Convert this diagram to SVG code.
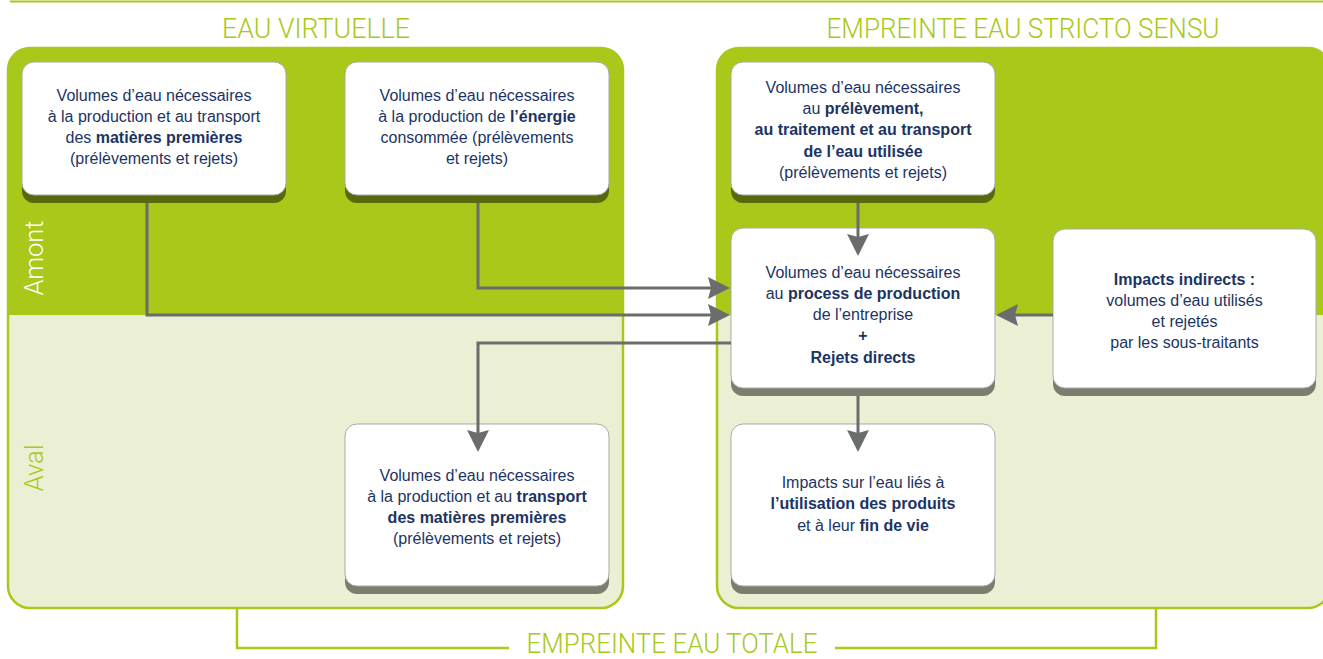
<svg xmlns="http://www.w3.org/2000/svg" width="1323" height="659" viewBox="0 0 1323 659">
<defs>
<style>
.title{font-family:Roboto,"Liberation Sans",sans-serif;font-weight:300;font-size:27px;fill:#a8c81a}
.panel{fill:#ebf0d5;stroke:#a8c81a;stroke-width:2.5}
.upper{fill:#a8c81a}
.box{fill:#fff;stroke:#a9aaa5;stroke-width:1}
.shadow{fill:#000;fill-opacity:0.48}
.t{font-family:"Liberation Sans",Arial,sans-serif;font-size:16px;fill:#1c3463;text-anchor:middle}
.b{font-weight:bold}
.conn{fill:none;stroke:#6b6d6d;stroke-width:3}
.bracket{fill:none;stroke:#a8c81a;stroke-width:2.5}
</style>
<marker id="arr" markerUnits="userSpaceOnUse" markerWidth="22" markerHeight="22" refX="4" refY="11" orient="auto" viewBox="0 0 22 22">
<path d="M0,0 L22,11 L0,22 L3,11 Z" fill="#6b6d6d"/>
</marker>
</defs>
<rect width="1323" height="659" fill="#fff"/>
<line x1="10" y1="1.5" x2="1323" y2="1.5" stroke="#a8c81a" stroke-width="2"/>

<g id="panel-virtuelle">
<rect class="panel" x="8" y="48" width="615" height="560" rx="22"/>
<path class="upper" d="M8,315 V70 A22,22 0 0 1 30,48 H601 A22,22 0 0 1 623,70 V315 Z"/>
<text class="title" x="316" y="38" text-anchor="middle" textLength="188" lengthAdjust="spacingAndGlyphs">EAU VIRTUELLE</text>
<text transform="translate(43,258) rotate(-90)" font-family="Roboto,'Liberation Sans',sans-serif" font-weight="300" font-size="26" fill="#fff" text-anchor="middle" textLength="75" lengthAdjust="spacingAndGlyphs">Amont</text>
<text transform="translate(43,468) rotate(-90)" font-family="Roboto,'Liberation Sans',sans-serif" font-weight="300" font-size="26" fill="#a8c81a" text-anchor="middle" textLength="47" lengthAdjust="spacingAndGlyphs">Aval</text>
</g>

<g id="panel-stricto">
<rect class="panel" x="717" y="48" width="613" height="560" rx="22"/>
<path class="upper" d="M717,315 V70 A22,22 0 0 1 739,48 H1308 A22,22 0 0 1 1330,70 V315 Z"/>
<text class="title" x="1023" y="38" text-anchor="middle" textLength="393" lengthAdjust="spacingAndGlyphs">EMPREINTE EAU STRICTO SENSU</text>
</g>

<g id="totale">
<path class="bracket" d="M237,608 V648 H509"/>
<path class="bracket" d="M835,648 H1156 V608"/>
<text class="title" x="672" y="653" font-size="26" text-anchor="middle" textLength="291" lengthAdjust="spacingAndGlyphs">EMPREINTE EAU TOTALE</text>
</g>

<g id="node-matieres-amont">
<rect class="shadow" x="22" y="70" width="264" height="133" rx="12"/>
<rect class="box" x="22" y="62" width="264" height="133" rx="12"/>
<text class="t" x="154" y="101">Volumes d’eau nécessaires</text>
<text class="t" x="154" y="122">à la production et au transport</text>
<text class="t" x="154" y="143">des <tspan class="b">matières premières</tspan></text>
<text class="t" x="154" y="164">(prélèvements et rejets)</text>
</g>

<g id="node-energie">
<rect class="shadow" x="345" y="70" width="264" height="133" rx="12"/>
<rect class="box" x="345" y="62" width="264" height="133" rx="12"/>
<text class="t" x="477" y="101">Volumes d’eau nécessaires</text>
<text class="t" x="477" y="122">à la production de <tspan class="b">l’énergie</tspan></text>
<text class="t" x="477" y="143">consommée (prélèvements</text>
<text class="t" x="477" y="164">et rejets)</text>
</g>

<g id="node-prelevement">
<rect class="shadow" x="731" y="70" width="264" height="133" rx="12"/>
<rect class="box" x="731" y="62" width="264" height="133" rx="12"/>
<text class="t" x="863" y="93">Volumes d’eau nécessaires</text>
<text class="t" x="863" y="114">au <tspan class="b">prélèvement,</tspan></text>
<text class="t b" x="863" y="135">au traitement et au transport</text>
<text class="t b" x="863" y="157">de l’eau utilisée</text>
<text class="t" x="863" y="178">(prélèvements et rejets)</text>
</g>

<g id="node-process">
<rect class="shadow" x="731" y="236" width="264" height="160" rx="12"/>
<rect class="box" x="731" y="228" width="264" height="160" rx="12"/>
<text class="t" x="863" y="278">Volumes d’eau nécessaires</text>
<text class="t" x="863" y="299">au <tspan class="b">process de production</tspan></text>
<text class="t" x="863" y="320">de l’entreprise</text>
<text class="t b" x="863" y="341" font-size="12">+</text>
<text class="t b" x="863" y="363">Rejets directs</text>
</g>

<g id="node-indirects">
<rect class="shadow" x="1053" y="237" width="263" height="159" rx="12"/>
<rect class="box" x="1053" y="229" width="263" height="159" rx="12"/>
<text class="t b" x="1184.5" y="285">Impacts indirects :</text>
<text class="t" x="1184.5" y="306">volumes d’eau utilisés</text>
<text class="t" x="1184.5" y="327">et rejetés</text>
<text class="t" x="1184.5" y="348">par les sous-traitants</text>
</g>

<g id="node-matieres-aval">
<rect class="shadow" x="345" y="432" width="264" height="162" rx="12"/>
<rect class="box" x="345" y="424" width="264" height="162" rx="12"/>
<text class="t" x="477" y="481">Volumes d’eau nécessaires</text>
<text class="t" x="477" y="502">à la production et au <tspan class="b">transport</tspan></text>
<text class="t b" x="477" y="523">des matières premières</text>
<text class="t" x="477" y="544">(prélèvements et rejets)</text>
</g>

<g id="node-utilisation">
<rect class="shadow" x="731" y="432" width="264" height="162" rx="12"/>
<rect class="box" x="731" y="424" width="264" height="162" rx="12"/>
<text class="t" x="863" y="488">Impacts sur l’eau liés à</text>
<text class="t b" x="863" y="509">l’utilisation des produits</text>
<text class="t" x="863" y="531">et à leur <tspan class="b">fin de vie</tspan></text>
</g>

<g id="connectors">
<path class="conn" d="M147,203 V315 H712" marker-end="url(#arr)"/>
<path class="conn" d="M478,203 V288 H712" marker-end="url(#arr)"/>
<path class="conn" d="M858,203 V238" marker-end="url(#arr)"/>
<path class="conn" d="M858,396 V434" marker-end="url(#arr)"/>
<path class="conn" d="M731,343 H478 V434" marker-end="url(#arr)"/>
<path class="conn" d="M1053,315 H1014" marker-end="url(#arr)"/>
</g>
</svg>
